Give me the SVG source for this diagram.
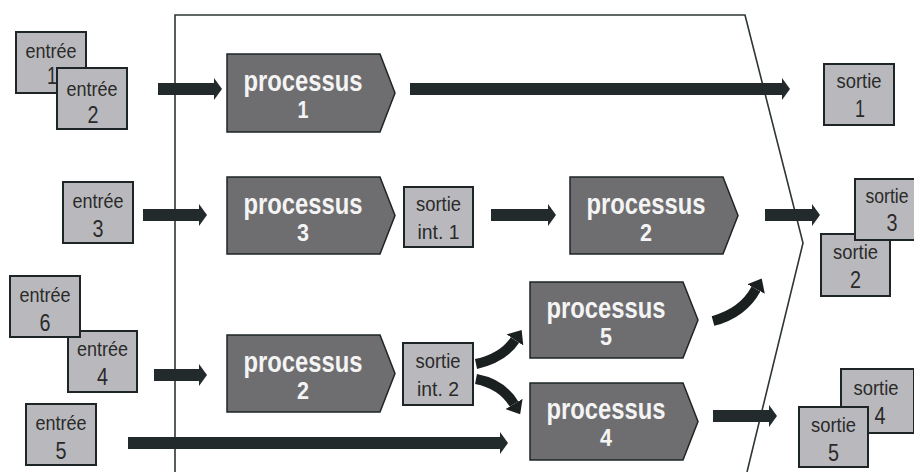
<svg xmlns="http://www.w3.org/2000/svg" width="914" height="472" viewBox="0 0 914 472">
<defs>
<style>
.box{fill:#b9b9bd;stroke:#1e2526;stroke-width:2}
.proc{fill:#6e6e70;stroke:#1e2526;stroke-width:1.5}
.t{font-family:"Liberation Sans",Arial,sans-serif;font-size:20px;fill:#2a2a2a;text-anchor:middle}
.d{font-family:"Liberation Sans",Arial,sans-serif;font-size:23px;fill:#2a2a2a;text-anchor:middle}
.pt{font-family:"Liberation Sans",Arial,sans-serif;font-weight:bold;font-size:29px;fill:#f4f4f4;text-anchor:middle}
.pd{font-family:"Liberation Sans",Arial,sans-serif;font-weight:bold;font-size:23px;fill:#f4f4f4;text-anchor:middle}
.frame{fill:none;stroke:#2e3535;stroke-width:1.6}
.arr{fill:none;stroke:#232a2b;stroke-width:12;marker-end:url(#ah)}
.carr{fill:none;stroke:#1a1f20;stroke-width:10;marker-end:url(#ch)}
</style>
<marker id="ah" markerUnits="userSpaceOnUse" viewBox="0 -11 8 22" markerWidth="8" markerHeight="22" refX="0" refY="0" orient="auto">
<path d="M0,-11 L8,0 L0,11 Z" fill="#232a2b"/>
</marker>
<marker id="ch" markerUnits="userSpaceOnUse" viewBox="0 -10 12 20" markerWidth="12" markerHeight="20" refX="0" refY="0" orient="auto">
<path d="M0,-10 L12,0 L0,10 Z" fill="#1a1f20"/>
</marker>
</defs>
<rect width="914" height="472" fill="#ffffff"/>
<g id="frame">
<polyline class="frame" points="175,472 175,15 745,15 803,243 747,472"/>
</g>
<g id="connectors">
<line class="arr" x1="158" y1="89" x2="214" y2="89"/>
<line class="arr" x1="410" y1="89" x2="782" y2="89"/>
<line class="arr" x1="143" y1="215" x2="199" y2="215"/>
<line class="arr" x1="491" y1="215" x2="548" y2="215"/>
<line class="arr" x1="765" y1="215" x2="812" y2="215"/>
<line class="arr" x1="154" y1="375" x2="199" y2="375"/>
<line class="arr" x1="128" y1="443" x2="500" y2="443"/>
<line class="arr" x1="713" y1="416" x2="769" y2="416"/>
<path class="carr" d="M476,364 Q503,358 515,340"/>
<path class="carr" d="M476,379 Q502,384 514,404"/>
<path class="carr" d="M713,321 Q743,313 756,289"/>
</g>
<g id="entree1"><rect class="box" x="16" y="32" width="70" height="61"/><text class="t" x="51" y="58" textLength="51" lengthAdjust="spacingAndGlyphs">entrée</text><text class="d" x="52" y="84" textLength="10" lengthAdjust="spacingAndGlyphs">1</text></g>
<g id="entree2"><rect class="box" x="57" y="68" width="70" height="61"/><text class="t" x="92" y="96" textLength="51" lengthAdjust="spacingAndGlyphs">entrée</text><text class="d" x="93" y="123" textLength="11" lengthAdjust="spacingAndGlyphs">2</text></g>
<g id="processus1"><path class="proc" d="M227,54 H380 L395,93 L380,132 H227 Z"/><text class="pt" x="303" y="91" textLength="119" lengthAdjust="spacingAndGlyphs">processus</text><text class="pd" x="303" y="118" textLength="11" lengthAdjust="spacingAndGlyphs">1</text></g>
<g id="sortie1"><rect class="box" x="824" y="64" width="70" height="61"/><text class="t" x="859" y="88" textLength="45" lengthAdjust="spacingAndGlyphs">sortie</text><text class="d" x="860" y="117" textLength="10" lengthAdjust="spacingAndGlyphs">1</text></g>
<g id="entree3"><rect class="box" x="63" y="182" width="70" height="61"/><text class="t" x="98" y="208" textLength="51" lengthAdjust="spacingAndGlyphs">entrée</text><text class="d" x="98" y="237" textLength="11" lengthAdjust="spacingAndGlyphs">3</text></g>
<g id="processus3"><path class="proc" d="M227,177 H380 L395,215.5 L380,254 H227 Z"/><text class="pt" x="303" y="214" textLength="119" lengthAdjust="spacingAndGlyphs">processus</text><text class="pd" x="303" y="241" textLength="12" lengthAdjust="spacingAndGlyphs">3</text></g>
<g id="sortieint1"><rect class="box" x="404" y="187" width="69" height="60"/><text class="t" x="438.5" y="211" textLength="45" lengthAdjust="spacingAndGlyphs">sortie</text><text class="t" x="438.5" y="239" textLength="42" lengthAdjust="spacingAndGlyphs">int. 1</text></g>
<g id="processus2a"><path class="proc" d="M570,177 H723 L738,215.5 L723,254 H570 Z"/><text class="pt" x="646" y="214" textLength="119" lengthAdjust="spacingAndGlyphs">processus</text><text class="pd" x="646" y="241" textLength="12" lengthAdjust="spacingAndGlyphs">2</text></g>
<g id="sortie2"><rect class="box" x="821" y="234" width="69" height="62"/><text class="t" x="855.5" y="259" textLength="45" lengthAdjust="spacingAndGlyphs">sortie</text><text class="d" x="855.5" y="288" textLength="11" lengthAdjust="spacingAndGlyphs">2</text></g>
<g id="sortie3"><rect class="box" x="855" y="179" width="70" height="61"/><text class="t" x="887" y="203" textLength="43" lengthAdjust="spacingAndGlyphs">sortie</text><text class="d" x="892" y="231" textLength="11" lengthAdjust="spacingAndGlyphs">3</text></g>
<g id="entree4"><rect class="box" x="68" y="331" width="69" height="61"/><text class="t" x="102.5" y="356" textLength="51" lengthAdjust="spacingAndGlyphs">entrée</text><text class="d" x="102.5" y="385" textLength="11" lengthAdjust="spacingAndGlyphs">4</text></g>
<g id="entree6"><rect class="box" x="10" y="276" width="70" height="61"/><text class="t" x="45" y="302" textLength="51" lengthAdjust="spacingAndGlyphs">entrée</text><text class="d" x="45" y="331" textLength="11" lengthAdjust="spacingAndGlyphs">6</text></g>
<g id="processus2b"><path class="proc" d="M227,335 H380 L395,373.5 L380,412 H227 Z"/><text class="pt" x="303" y="372" textLength="119" lengthAdjust="spacingAndGlyphs">processus</text><text class="pd" x="303" y="399" textLength="12" lengthAdjust="spacingAndGlyphs">2</text></g>
<g id="sortieint2"><rect class="box" x="403" y="343" width="70" height="62"/><text class="t" x="438" y="368" textLength="45" lengthAdjust="spacingAndGlyphs">sortie</text><text class="t" x="438" y="396" textLength="42" lengthAdjust="spacingAndGlyphs">int. 2</text></g>
<g id="entree5"><rect class="box" x="26" y="404" width="70" height="61"/><text class="t" x="61" y="430" textLength="51" lengthAdjust="spacingAndGlyphs">entrée</text><text class="d" x="61" y="459" textLength="11" lengthAdjust="spacingAndGlyphs">5</text></g>
<g id="processus5"><path class="proc" d="M530,282 H683 L698,320 L683,358 H530 Z"/><text class="pt" x="606" y="318" textLength="119" lengthAdjust="spacingAndGlyphs">processus</text><text class="pd" x="606" y="345" textLength="12" lengthAdjust="spacingAndGlyphs">5</text></g>
<g id="processus4"><path class="proc" d="M530,383 H683 L698,421.5 L683,460 H530 Z"/><text class="pt" x="606" y="419" textLength="119" lengthAdjust="spacingAndGlyphs">processus</text><text class="pd" x="606" y="446" textLength="12" lengthAdjust="spacingAndGlyphs">4</text></g>
<g id="sortie4"><rect class="box" x="841" y="369" width="73" height="64"/><text class="t" x="876" y="395" textLength="45" lengthAdjust="spacingAndGlyphs">sortie</text><text class="d" x="880" y="424" textLength="11" lengthAdjust="spacingAndGlyphs">4</text></g>
<g id="sortie5"><rect class="box" x="799" y="407" width="69" height="60"/><text class="t" x="833.5" y="432" textLength="45" lengthAdjust="spacingAndGlyphs">sortie</text><text class="d" x="833.5" y="461" textLength="11" lengthAdjust="spacingAndGlyphs">5</text></g>
</svg>
